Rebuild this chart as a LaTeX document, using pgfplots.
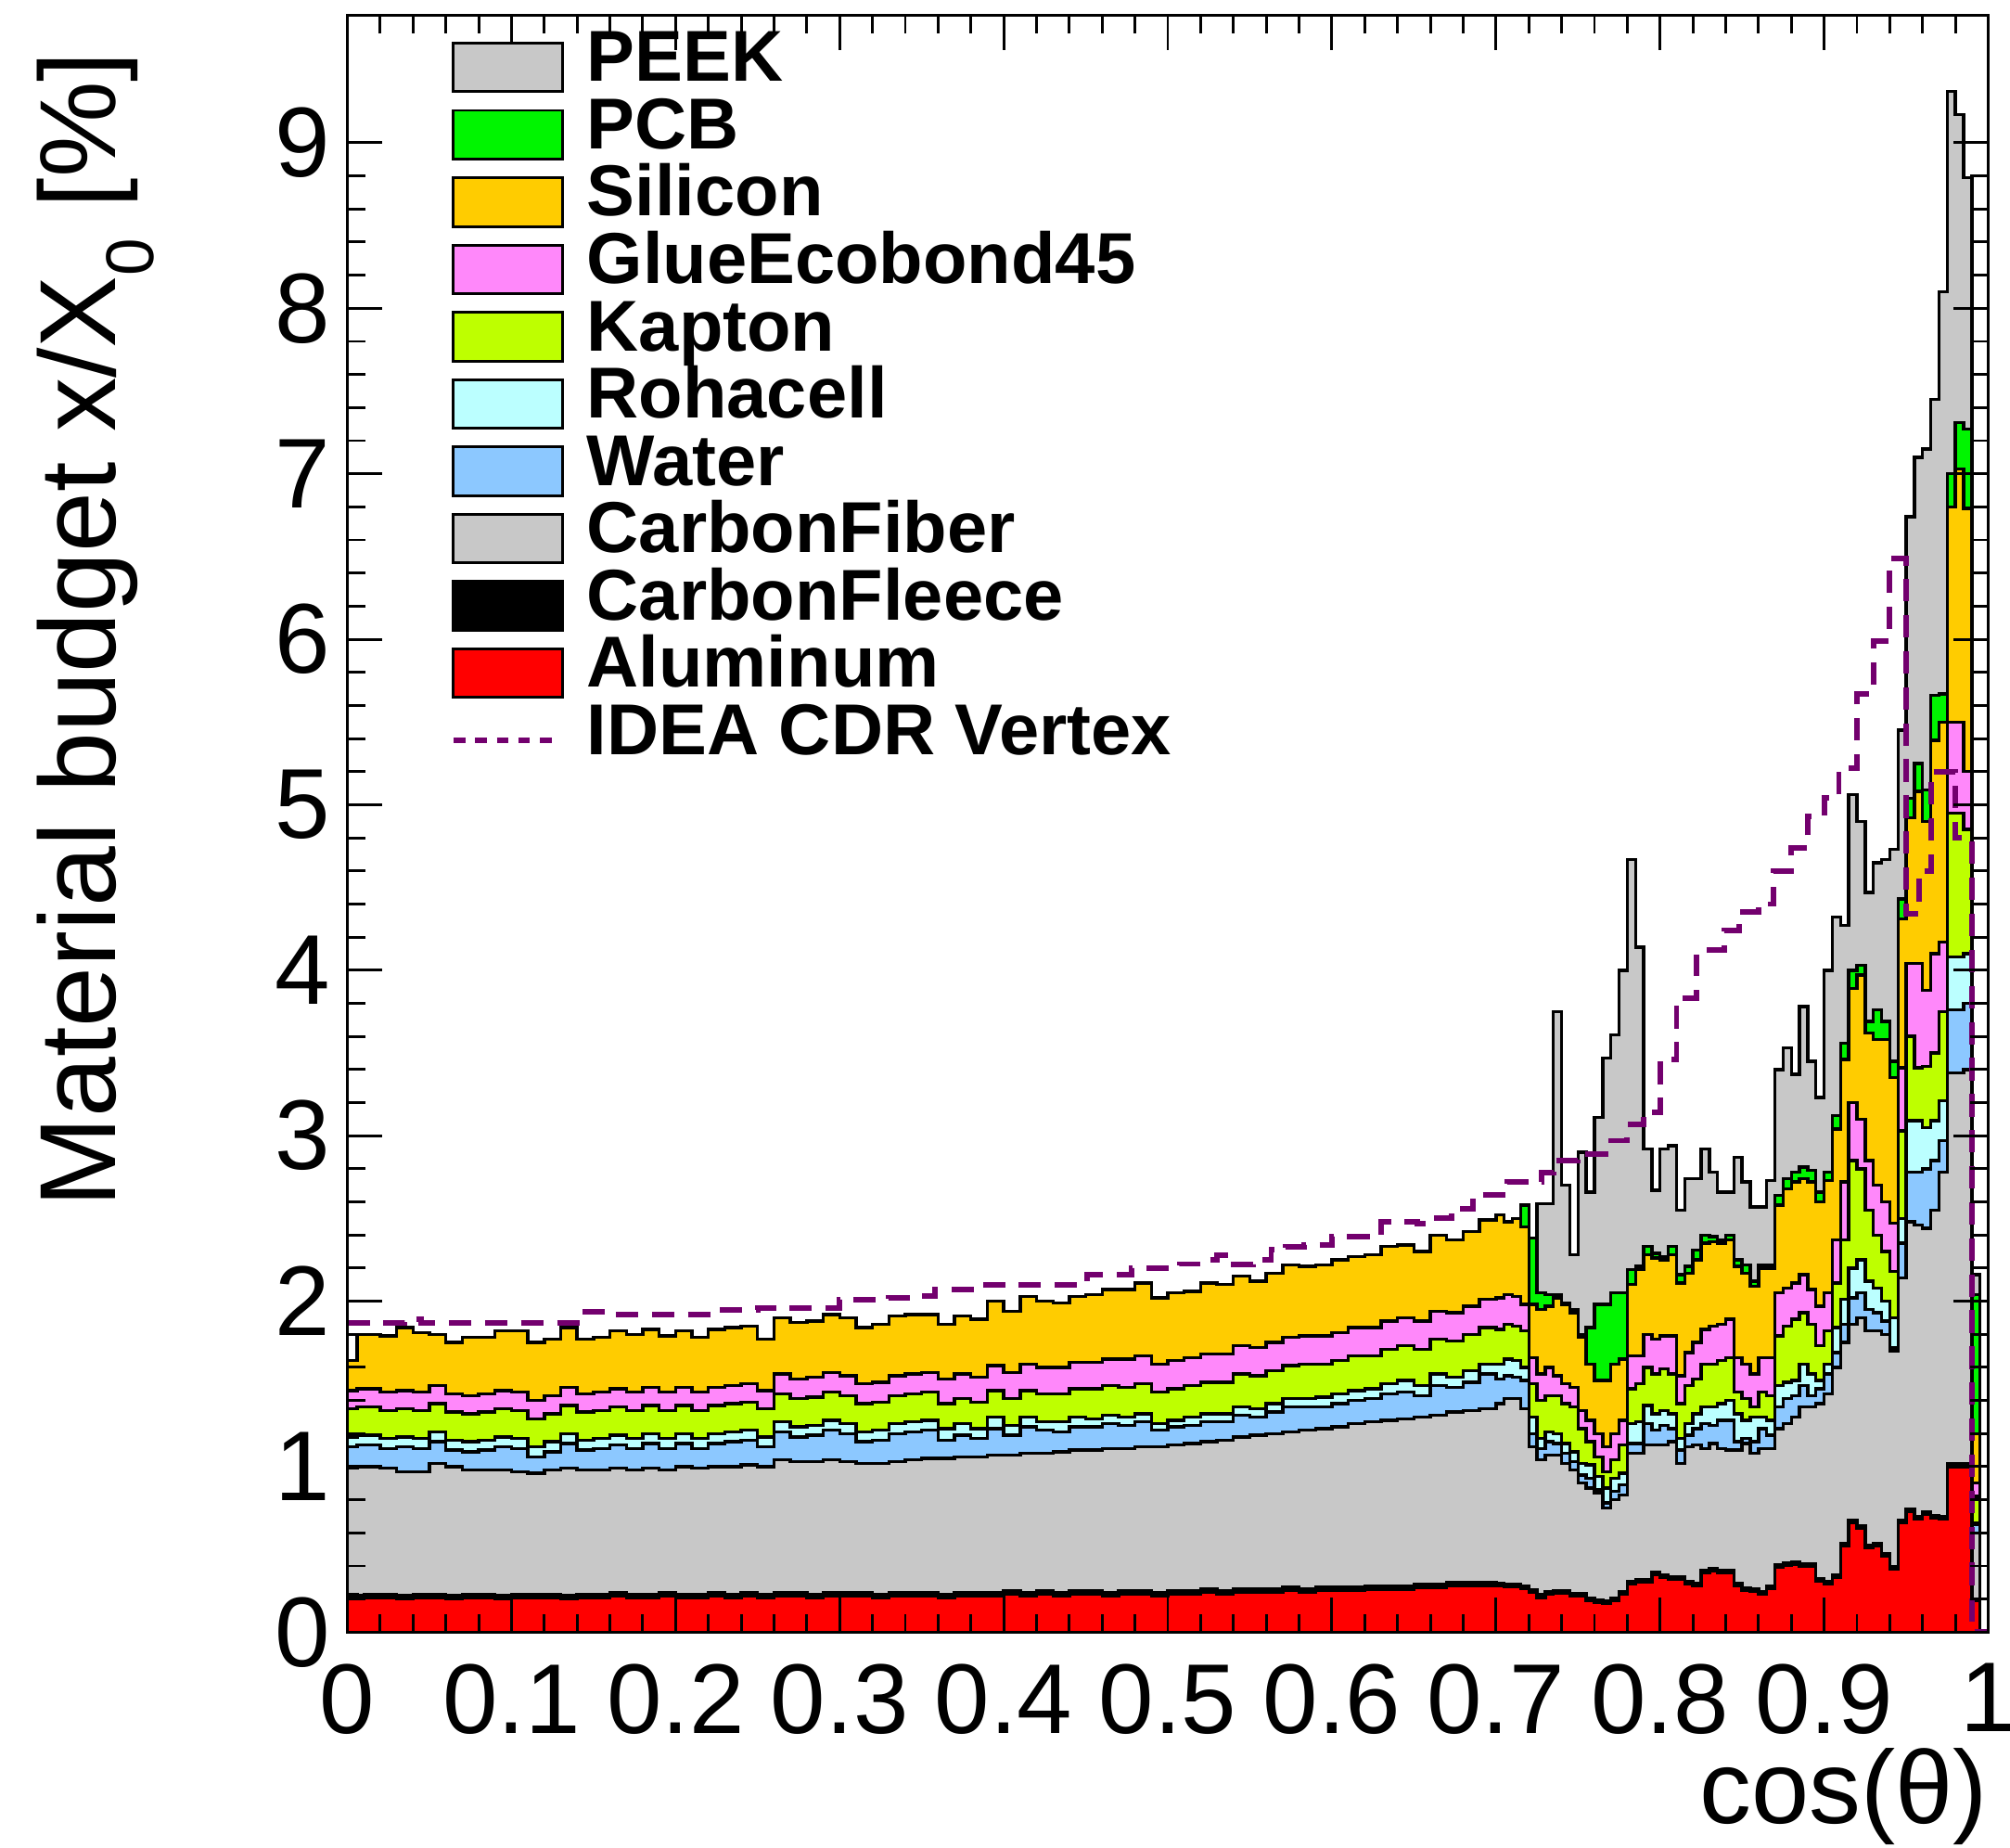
\documentclass[border=0pt]{standalone}
\usepackage{fontspec}
\setmainfont{Liberation Sans}
\usepackage{pgfplots}
\usepackage{pgfplotstable}
\pgfplotsset{compat=1.18}
\usetikzlibrary{calc}

\definecolor{peekgray}{RGB}{200,200,200}
\definecolor{pcbgreen}{RGB}{0,245,0}
\definecolor{siorange}{RGB}{255,204,0}
\definecolor{gluepink}{RGB}{255,136,250}
\definecolor{kaplime}{RGB}{190,255,0}
\definecolor{rohacyan}{RGB}{187,255,255}
\definecolor{waterblue}{RGB}{140,200,255}
\definecolor{fibergray}{RGB}{200,200,200}
\definecolor{alred}{RGB}{255,0,0}
\definecolor{ideapurple}{RGB}{115,0,110}

% cumulative layer tops (bottom -> top), bin left edges
\pgfplotstableread{
x al fl cf wa ro ka gl si pcb peek
0.000 0.21 0.23 0.99 1.12 1.18 1.35 1.46 1.64 1.64 1.64
0.006 0.20 0.22 1.00 1.13 1.19 1.36 1.47 1.80 1.80 1.80
0.01 0.21 0.23 1.00 1.13 1.19 1.36 1.47 1.80 1.80 1.80
0.02 0.21 0.23 0.99 1.11 1.17 1.34 1.45 1.79 1.79 1.79
0.03 0.20 0.22 0.97 1.12 1.18 1.35 1.46 1.84 1.84 1.84
0.04 0.21 0.23 0.97 1.11 1.17 1.34 1.45 1.81 1.81 1.81
0.05 0.21 0.23 1.02 1.15 1.21 1.38 1.49 1.80 1.80 1.80
0.06 0.20 0.22 1.00 1.10 1.16 1.33 1.44 1.75 1.75 1.75
0.07 0.21 0.23 0.98 1.09 1.15 1.32 1.43 1.78 1.78 1.78
0.08 0.21 0.23 0.98 1.10 1.16 1.33 1.44 1.78 1.78 1.78
0.09 0.20 0.22 0.98 1.12 1.18 1.35 1.46 1.82 1.82 1.82
0.10 0.21 0.23 0.97 1.11 1.17 1.34 1.45 1.82 1.82 1.82
0.11 0.21 0.23 0.96 1.06 1.12 1.29 1.40 1.75 1.75 1.75
0.12 0.21 0.23 0.98 1.09 1.15 1.32 1.43 1.77 1.77 1.77
0.13 0.20 0.22 0.99 1.14 1.20 1.37 1.48 1.84 1.84 1.84
0.14 0.21 0.23 0.98 1.10 1.16 1.33 1.44 1.77 1.77 1.77
0.15 0.21 0.23 0.98 1.11 1.17 1.34 1.45 1.78 1.78 1.78
0.16 0.22 0.24 0.99 1.13 1.19 1.36 1.47 1.82 1.82 1.82
0.17 0.21 0.23 0.98 1.11 1.17 1.34 1.45 1.80 1.80 1.80
0.18 0.21 0.23 0.99 1.14 1.20 1.37 1.48 1.83 1.83 1.83
0.19 0.22 0.24 0.98 1.11 1.17 1.34 1.45 1.79 1.79 1.79
0.20 0.21 0.23 1.00 1.14 1.20 1.37 1.48 1.82 1.82 1.82
0.21 0.21 0.23 0.99 1.11 1.17 1.34 1.45 1.78 1.78 1.78
0.22 0.22 0.24 1.00 1.14 1.20 1.37 1.48 1.83 1.83 1.83
0.23 0.21 0.23 1.00 1.15 1.21 1.38 1.49 1.84 1.84 1.84
0.24 0.22 0.24 1.01 1.16 1.22 1.39 1.50 1.85 1.85 1.85
0.25 0.21 0.23 1.00 1.12 1.18 1.35 1.46 1.77 1.77 1.77
0.26 0.22 0.24 1.04 1.21 1.27 1.44 1.56 1.90 1.90 1.90
0.27 0.22 0.24 1.03 1.18 1.24 1.41 1.53 1.87 1.87 1.87
0.28 0.21 0.23 1.03 1.19 1.25 1.42 1.54 1.88 1.88 1.88
0.29 0.22 0.24 1.04 1.22 1.28 1.45 1.57 1.92 1.92 1.92
0.30 0.22 0.24 1.03 1.20 1.26 1.43 1.55 1.90 1.90 1.90
0.31 0.22 0.24 1.02 1.15 1.21 1.38 1.50 1.84 1.84 1.84
0.32 0.21 0.23 1.02 1.16 1.22 1.39 1.51 1.86 1.86 1.86
0.33 0.22 0.24 1.03 1.20 1.26 1.43 1.55 1.91 1.91 1.91
0.34 0.22 0.24 1.04 1.21 1.27 1.44 1.56 1.92 1.92 1.92
0.35 0.22 0.24 1.05 1.22 1.28 1.45 1.57 1.92 1.92 1.92
0.36 0.21 0.23 1.05 1.16 1.23 1.38 1.53 1.86 1.86 1.86
0.37 0.22 0.24 1.06 1.19 1.26 1.41 1.56 1.91 1.91 1.91
0.38 0.22 0.24 1.06 1.17 1.23 1.39 1.54 1.89 1.89 1.89
0.39 0.22 0.24 1.07 1.23 1.30 1.46 1.61 2.00 2.00 2.00
0.40 0.23 0.25 1.07 1.19 1.25 1.41 1.57 1.94 1.94 1.94
0.41 0.22 0.24 1.08 1.24 1.30 1.46 1.62 2.03 2.03 2.03
0.42 0.23 0.25 1.08 1.22 1.27 1.44 1.60 2.00 2.00 2.00
0.43 0.22 0.24 1.09 1.21 1.27 1.44 1.60 1.99 1.99 1.99
0.44 0.23 0.25 1.10 1.24 1.30 1.47 1.63 2.03 2.03 2.03
0.45 0.23 0.25 1.10 1.24 1.29 1.47 1.63 2.04 2.04 2.04
0.46 0.22 0.24 1.11 1.26 1.31 1.49 1.65 2.07 2.07 2.07
0.47 0.23 0.25 1.11 1.25 1.30 1.48 1.65 2.07 2.07 2.07
0.48 0.23 0.25 1.12 1.27 1.32 1.50 1.67 2.11 2.11 2.11
0.49 0.22 0.24 1.12 1.22 1.26 1.45 1.62 2.02 2.02 2.02
0.50 0.23 0.25 1.13 1.24 1.28 1.47 1.64 2.05 2.05 2.05
0.51 0.23 0.25 1.14 1.25 1.30 1.49 1.66 2.06 2.06 2.06
0.52 0.24 0.26 1.15 1.27 1.32 1.51 1.68 2.11 2.11 2.11
0.53 0.23 0.25 1.16 1.27 1.32 1.51 1.68 2.10 2.10 2.10
0.54 0.24 0.26 1.18 1.31 1.36 1.56 1.73 2.15 2.15 2.15
0.55 0.24 0.26 1.19 1.30 1.35 1.55 1.72 2.12 2.12 2.12
0.56 0.24 0.26 1.20 1.33 1.38 1.58 1.75 2.17 2.17 2.17
0.57 0.25 0.27 1.21 1.36 1.41 1.61 1.78 2.22 2.22 2.22
0.58 0.24 0.26 1.22 1.36 1.41 1.62 1.79 2.21 2.21 2.21
0.59 0.25 0.27 1.23 1.36 1.42 1.62 1.79 2.22 2.22 2.22
0.60 0.25 0.27 1.24 1.38 1.44 1.64 1.81 2.25 2.25 2.25
0.61 0.25 0.27 1.26 1.40 1.46 1.67 1.84 2.27 2.27 2.27
0.62 0.26 0.28 1.27 1.41 1.47 1.67 1.84 2.28 2.28 2.28
0.63 0.26 0.28 1.28 1.44 1.50 1.71 1.88 2.33 2.33 2.33
0.64 0.26 0.28 1.29 1.45 1.52 1.73 1.90 2.34 2.34 2.34
0.65 0.27 0.29 1.30 1.43 1.49 1.71 1.88 2.30 2.30 2.30
0.66 0.27 0.29 1.31 1.49 1.56 1.77 1.94 2.40 2.40 2.40
0.67 0.28 0.30 1.33 1.48 1.54 1.76 1.93 2.37 2.37 2.37
0.68 0.28 0.30 1.34 1.51 1.58 1.80 1.97 2.42 2.42 2.42
0.69 0.28 0.30 1.35 1.56 1.62 1.84 2.01 2.49 2.49 2.49
0.700 0.280 0.295 1.38 1.53 1.62 1.83 2.02 2.52 2.52 2.52
0.705 0.275 0.290 1.41 1.55 1.65 1.86 2.04 2.48 2.48 2.48
0.710 0.275 0.290 1.41 1.54 1.64 1.85 2.03 2.50 2.50 2.50
0.715 0.265 0.280 1.35 1.52 1.60 1.82 1.98 2.45 2.58 2.58
0.720 0.240 0.255 1.12 1.20 1.30 1.50 1.66 1.98 2.38 2.38
0.725 0.210 0.225 1.04 1.11 1.17 1.40 1.56 1.95 2.05 2.59
0.730 0.230 0.245 1.07 1.15 1.21 1.43 1.60 1.97 2.04 2.59
0.735 0.235 0.250 1.07 1.14 1.20 1.43 1.55 2.02 2.04 3.75
0.740 0.235 0.250 1.02 1.08 1.14 1.38 1.50 1.98 1.99 2.70
0.745 0.220 0.235 0.98 1.03 1.09 1.36 1.48 1.93 1.95 2.28
0.750 0.220 0.235 0.90 0.95 1.02 1.23 1.34 1.78 1.80 2.90
0.755 0.190 0.205 0.87 0.93 1.01 1.15 1.28 1.62 1.84 2.66
0.760 0.180 0.195 0.84 0.86 0.94 1.06 1.20 1.52 1.98 3.11
0.765 0.172 0.187 0.75 0.78 0.87 0.97 1.12 1.52 1.98 3.47
0.770 0.190 0.205 0.80 0.85 0.93 1.04 1.20 1.62 2.05 3.61
0.775 0.230 0.245 0.83 0.89 0.96 1.13 1.28 1.65 2.05 4.00
0.780 0.290 0.305 1.08 1.14 1.26 1.47 1.67 2.10 2.19 4.67
0.785 0.300 0.315 1.08 1.14 1.27 1.50 1.67 2.19 2.21 4.14
0.790 0.300 0.315 1.13 1.26 1.37 1.60 1.80 2.28 2.33 2.92
0.795 0.350 0.365 1.13 1.22 1.32 1.56 1.77 2.26 2.29 2.67
0.800 0.330 0.345 1.13 1.25 1.34 1.59 1.79 2.25 2.27 2.92
0.805 0.320 0.335 1.15 1.23 1.32 1.56 1.79 2.28 2.33 2.94
0.810 0.320 0.335 1.02 1.10 1.17 1.38 1.55 2.11 2.16 2.55
0.815 0.290 0.305 1.12 1.19 1.26 1.49 1.69 2.17 2.21 2.74
0.820 0.280 0.295 1.13 1.23 1.32 1.53 1.75 2.25 2.31 2.74
0.825 0.360 0.375 1.11 1.26 1.36 1.62 1.83 2.35 2.40 2.92
0.830 0.370 0.385 1.14 1.25 1.36 1.62 1.85 2.36 2.39 2.78
0.835 0.360 0.375 1.11 1.28 1.38 1.64 1.86 2.35 2.37 2.66
0.840 0.360 0.375 1.10 1.28 1.40 1.66 1.89 2.37 2.40 2.66
0.845 0.280 0.295 1.10 1.15 1.32 1.45 1.66 2.21 2.25 2.87
0.850 0.250 0.265 1.14 1.17 1.28 1.41 1.62 2.17 2.22 2.72
0.855 0.245 0.260 1.08 1.15 1.30 1.36 1.56 2.09 2.12 2.57
0.860 0.230 0.245 1.11 1.23 1.30 1.45 1.66 2.20 2.22 2.57
0.865 0.265 0.280 1.11 1.19 1.28 1.43 1.66 2.20 2.22 2.73
0.870 0.390 0.405 1.23 1.36 1.49 1.79 2.05 2.58 2.64 3.40
0.875 0.405 0.420 1.26 1.41 1.51 1.85 2.08 2.68 2.74 3.53
0.880 0.410 0.425 1.30 1.43 1.52 1.89 2.11 2.72 2.78 3.37
0.885 0.400 0.415 1.36 1.49 1.62 1.93 2.16 2.74 2.81 3.78
0.890 0.400 0.415 1.36 1.43 1.56 1.86 2.07 2.72 2.79 3.45
0.895 0.310 0.325 1.38 1.47 1.52 1.73 1.97 2.60 2.66 3.23
0.900 0.290 0.305 1.44 1.56 1.62 1.82 2.05 2.73 2.78 4.00
0.905 0.330 0.345 1.60 1.69 1.84 2.11 2.37 3.04 3.12 4.32
0.910 0.520 0.535 1.75 1.86 2.01 2.37 2.72 3.46 3.56 4.27
0.915 0.660 0.675 1.86 2.02 2.20 2.85 3.20 3.89 4.00 5.06
0.920 0.630 0.645 1.90 2.05 2.25 2.80 3.10 3.97 4.03 4.90
0.925 0.510 0.525 1.82 1.95 2.12 2.55 2.85 3.62 3.69 4.47
0.930 0.520 0.535 1.82 1.93 2.08 2.40 2.70 3.58 3.76 4.65
0.935 0.460 0.475 1.80 1.88 2.00 2.30 2.60 3.58 3.69 4.67
0.940 0.380 0.395 1.70 1.72 1.90 2.18 2.47 3.35 3.45 4.73
0.945 0.660 0.675 2.14 2.35 2.50 3.03 3.41 4.31 4.43 5.45
0.950 0.730 0.745 2.48 2.78 3.09 3.60 4.04 4.92 5.04 6.74
0.955 0.685 0.700 2.46 2.78 3.09 3.41 4.04 5.08 5.25 7.10
0.960 0.710 0.725 2.44 2.80 3.05 3.42 3.88 4.90 5.09 7.15
0.965 0.690 0.705 2.55 2.85 3.09 3.50 4.10 5.39 5.66 7.45
0.970 0.685 0.700 2.78 2.97 3.21 3.75 4.17 5.50 5.67 8.10
0.975 1.000 1.020 3.38 3.76 4.08 4.95 5.50 6.80 7.00 9.31
0.980 1.000 1.020 3.38 3.76 4.08 4.95 5.50 7.03 7.31 9.17
0.985 1.000 1.020 3.40 3.80 4.10 4.85 5.20 6.79 7.27 8.79
0.990 0.190 0.200 0.60 0.65 0.66 0.82 0.90 1.20 2.04 2.16
0.995 0 0 0 0 0 0 0 0 0 0
1.000 0 0 0 0 0 0 0 0 0 0
}\mb

% IDEA CDR vertex total, step edges
\pgfplotstableread{
x v
0.000 1.87
0.035 1.89
0.045 1.87
0.140 1.935
0.160 1.92
0.225 1.945
0.250 1.96
0.300 2.01
0.330 2.02
0.350 2.03
0.358 2.07
0.389 2.10
0.451 2.16
0.478 2.20
0.507 2.225
0.521 2.25
0.530 2.28
0.538 2.22
0.552 2.25
0.563 2.31
0.572 2.33
0.583 2.34
0.600 2.39
0.630 2.48
0.652 2.47
0.662 2.50
0.673 2.56
0.686 2.64
0.707 2.72
0.728 2.775
0.735 2.85
0.750 2.89
0.767 2.97
0.780 3.07
0.790 3.14
0.800 3.46
0.810 3.83
0.822 4.08
0.830 4.12
0.839 4.24
0.848 4.35
0.860 4.40
0.869 4.60
0.880 4.74
0.890 4.93
0.900 5.04
0.909 5.22
0.920 5.67
0.930 5.99
0.940 6.49
0.950 4.34
0.958 4.60
0.965 5.20
0.980 4.80
0.990 0
1.000 0
}\idea

\pgfplotsset{
  matbox/.style={const plot, draw=black, line width=0.7pt, fill=#1,
    legend image code/.code={\draw[##1,line width=0.6pt] (0cm,-0.08cm) rectangle (0.85cm,0.30cm);}},
  idealine/.style={const plot, draw=ideapurple, line width=1.2pt, dash pattern=on 5pt off 3pt,
    legend image code/.code={\draw[##1, dash pattern=on 2.6pt off 2.2pt] (0cm,0.11cm) -- (0.78cm,0.11cm);}},
}

\begin{document}
\begin{tikzpicture}
\begin{axis}[
  name=ax,
  scale only axis, width=12.8cm, height=12.61cm,
  xmin=0, xmax=1, ymin=0, ymax=9.77,
  axis on top,
  xtick={0,0.1,0.2,0.3,0.4,0.5,0.6,0.7,0.8,0.9,1},
  xticklabels={0,0.1,0.2,0.3,0.4,0.5,0.6,0.7,0.8,0.9,1},
  ytick={0,1,2,3,4,5,6,7,8,9},
  yticklabels={0,1,2,3,4,5,6,7,8,9},
  minor x tick num=4, minor y tick num=4,
  tick align=inside,
  major tick length=0.27cm, minor tick length=0.14cm,
  every tick/.style={black, line width=0.6pt},
  axis line style={line width=0.7pt},
  tick label style={font=\fontsize{22}{22}\selectfont, inner sep=0pt},
  yticklabel style={xshift=-0.13cm},
  xticklabel style={yshift=-0.24cm},
  xlabel={cos(θ)},
  ylabel={Material budget x/X\raisebox{-0.35em}{\fontsize{15}{15}\selectfont 0} [\%]},
  label style={font=\fontsize{24}{24}\selectfont, inner sep=0pt},
  xlabel style={font=\fontsize{23}{23}\selectfont, at={(axis description cs:1,-0.1185)}, anchor=base east},
  ylabel style={at={(axis description cs:-0.1414,0.978)}, anchor=base east},
  legend style={draw=none, fill=none, at={(axis description cs:0.063,0.9908)},
    anchor=north west, inner sep=0pt, outer sep=0pt, row sep=0pt, column sep=0.18cm,
    font=\bfseries\fontsize{16}{16}\selectfont,
    cells={anchor=base west},
    nodes={inner sep=0pt, text height=0.40cm, text depth=0.125cm}},
]
\addplot[matbox=peekgray] table[x=x,y=peek]{\mb} \closedcycle;
\addlegendentry{PEEK}
\addplot[matbox=pcbgreen] table[x=x,y=pcb]{\mb} \closedcycle;
\addlegendentry{PCB}
\addplot[matbox=siorange] table[x=x,y=si]{\mb} \closedcycle;
\addlegendentry{Silicon}
\addplot[matbox=gluepink] table[x=x,y=gl]{\mb} \closedcycle;
\addlegendentry{GlueEcobond45}
\addplot[matbox=kaplime] table[x=x,y=ka]{\mb} \closedcycle;
\addlegendentry{Kapton}
\addplot[matbox=rohacyan] table[x=x,y=ro]{\mb} \closedcycle;
\addlegendentry{Rohacell}
\addplot[matbox=waterblue] table[x=x,y=wa]{\mb} \closedcycle;
\addlegendentry{Water}
\addplot[matbox=fibergray] table[x=x,y=cf]{\mb} \closedcycle;
\addlegendentry{CarbonFiber}
\addplot[matbox=black] table[x=x,y=fl]{\mb} \closedcycle;
\addlegendentry{CarbonFleece}
\addplot[matbox=alred] table[x=x,y=al]{\mb} \closedcycle;
\addlegendentry{Aluminum}
\addplot[idealine] table[x=x,y=v]{\idea};
\addlegendentry{IDEA CDR Vertex}
\end{axis}
\pgfresetboundingbox
\path[use as bounding box] ($(ax.south west)+(-2.71cm,-1.68cm)$) rectangle ($(ax.north east)+(0.17cm,0.12cm)$);
\end{tikzpicture}
\end{document}
